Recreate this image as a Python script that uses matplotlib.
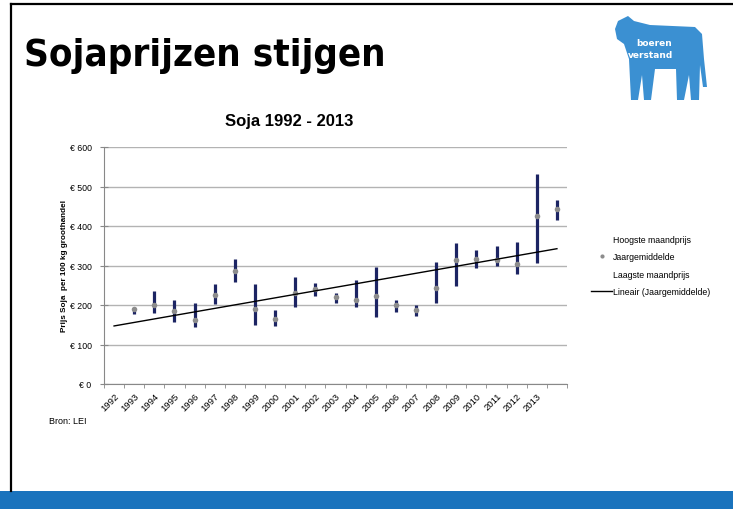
import numpy as np
import matplotlib.pyplot as plt
from matplotlib.lines import Line2D
from matplotlib.patches import Polygon, Rectangle

# === data ===
years = [str(y) for y in range(1992, 2014)]
cat_pos = np.arange(1, 23)
high = [192, 235, 212, 205, 254, 316, 254, 187, 272, 256, 230,
        263, 296, 213, 200, 309, 356, 340, 349, 359, 531, 466]
low = [176, 181, 156, 145, 203, 257, 149, 148, 194, 224, 205,
       196, 170, 183, 172, 205, 247, 294, 300, 278, 307, 415]
mean = [189, 201, 186, 163, 226, 287, 191, 165, 231, 240, 219,
        213, 224, 201, 188, 243, 313, 316, 313, 305, 426, 442]

W, H = 733, 510
fig = plt.figure(figsize=(W / 100, H / 100), dpi=100)

def px(x, y):
    return x / W, 1 - y / H

# === slide decoration ===
fig.add_artist(Line2D([11 / W, 11 / W], [1 - 5 / H, 1 - 492 / H], color='black', lw=1.6))
fig.add_artist(Line2D([11 / W, 1], [1 - 5 / H, 1 - 5 / H], color='black', lw=1.6))
fig.add_artist(Rectangle((0, 0), 1, 18 / H, color='#1a73bd', lw=0))

fig.text(*px(24, 66), "Sojaprijzen stijgen", fontsize=27.5, fontweight='bold',
         fontstretch='condensed', family='DejaVu Sans', va='baseline', ha='left')

cow = [(618, 22), (628, 17), (634, 22), (650, 26), (695, 28), (702, 35), (704, 60),
       (707, 88), (703, 88), (700, 66), (699, 101), (691, 101), (689, 76), (684, 101),
       (677, 101), (676, 70), (655, 70), (651, 101), (644, 101), (642, 76), (638, 101),
       (631, 101), (629, 60), (624, 45), (617, 40), (615, 30)]
fig.add_artist(Polygon([px(x, y) for x, y in cow], closed=True, color='#3b90d2', lw=0))
fig.text(*px(654, 43), "boeren", color='white', fontsize=6.5, fontweight='bold',
         ha='center', va='center')
fig.text(*px(650, 55), "verstand", color='white', fontsize=6.5, fontweight='bold',
         ha='center', va='center')

# === chart ===
ax = fig.add_axes([104 / W, 1 - 385 / H, 463 / W, 237 / H])

navy = '#1c2463'
grey = '#8c8c8c'
ax.vlines(cat_pos, low, high, colors=navy, linewidth=2.3, zorder=3)
ax.plot(cat_pos, mean, 'o', color=grey, ms=4, mew=0, zorder=4)

coef = np.polyfit(cat_pos, mean, 1)
xt = np.array([0, 22])
ax.plot(xt, np.polyval(coef, xt), color='black', lw=1, zorder=5)

ax.set_xlim(-0.5, 22.5)
ax.set_ylim(0, 600)
ax.set_yticks(np.arange(0, 700, 100))
ax.set_yticklabels([f"€ {v}" for v in range(0, 700, 100)], fontsize=6.3,
                   family='Liberation Sans')
ax.yaxis.grid(True, color='#b3b3b3', lw=1)
ax.set_axisbelow(True)
ax.tick_params(axis='y', length=6, direction='inout', color='#888888', pad=6)

ax.set_xticks(np.arange(len(years)))
ax.set_xticklabels(years, rotation=45, ha='right', rotation_mode='anchor',
                   fontsize=6.8, family='Liberation Sans')
ax.set_xticks(np.arange(-0.5, 23, 1), minor=True)
ax.tick_params(axis='x', which='major', length=0, pad=5)
ax.tick_params(axis='x', which='minor', length=3, color='#888888')

for s in ['top', 'right']:
    ax.spines[s].set_visible(False)
for s in ['left', 'bottom']:
    ax.spines[s].set_color('#888888')

ax.set_ylabel("Prijs Soja  per 100 kg groothandel", fontsize=5.9, fontweight='bold',
              family='Liberation Sans', labelpad=1)
fig.text(*px(289, 126), "Soja 1992 - 2013", fontsize=12, fontweight='bold',
         family='Liberation Sans', ha='center', va='baseline')

handles = [
    Line2D([], [], linestyle='none'),
    Line2D([], [], linestyle='none', marker='o', color=grey, ms=3, mew=0),
    Line2D([], [], linestyle='none'),
    Line2D([], [], color='black', lw=1),
]
labels = ["Hoogste maandprijs", "Jaargemiddelde", "Laagste maandprijs",
          "Lineair (Jaargemiddelde)"]
leg = ax.legend(handles, labels, loc='center left', bbox_to_anchor=(1.035, 0.5),
                frameon=False, handlelength=2.4, handletextpad=0.1,
                labelspacing=0.95, prop={'family': 'Liberation Sans', 'size': 6.3})

fig.text(*px(49, 424), "Bron: LEI", fontsize=6.5, family='Liberation Sans',
         va='baseline')

fig.savefig("out.png", dpi=100)
